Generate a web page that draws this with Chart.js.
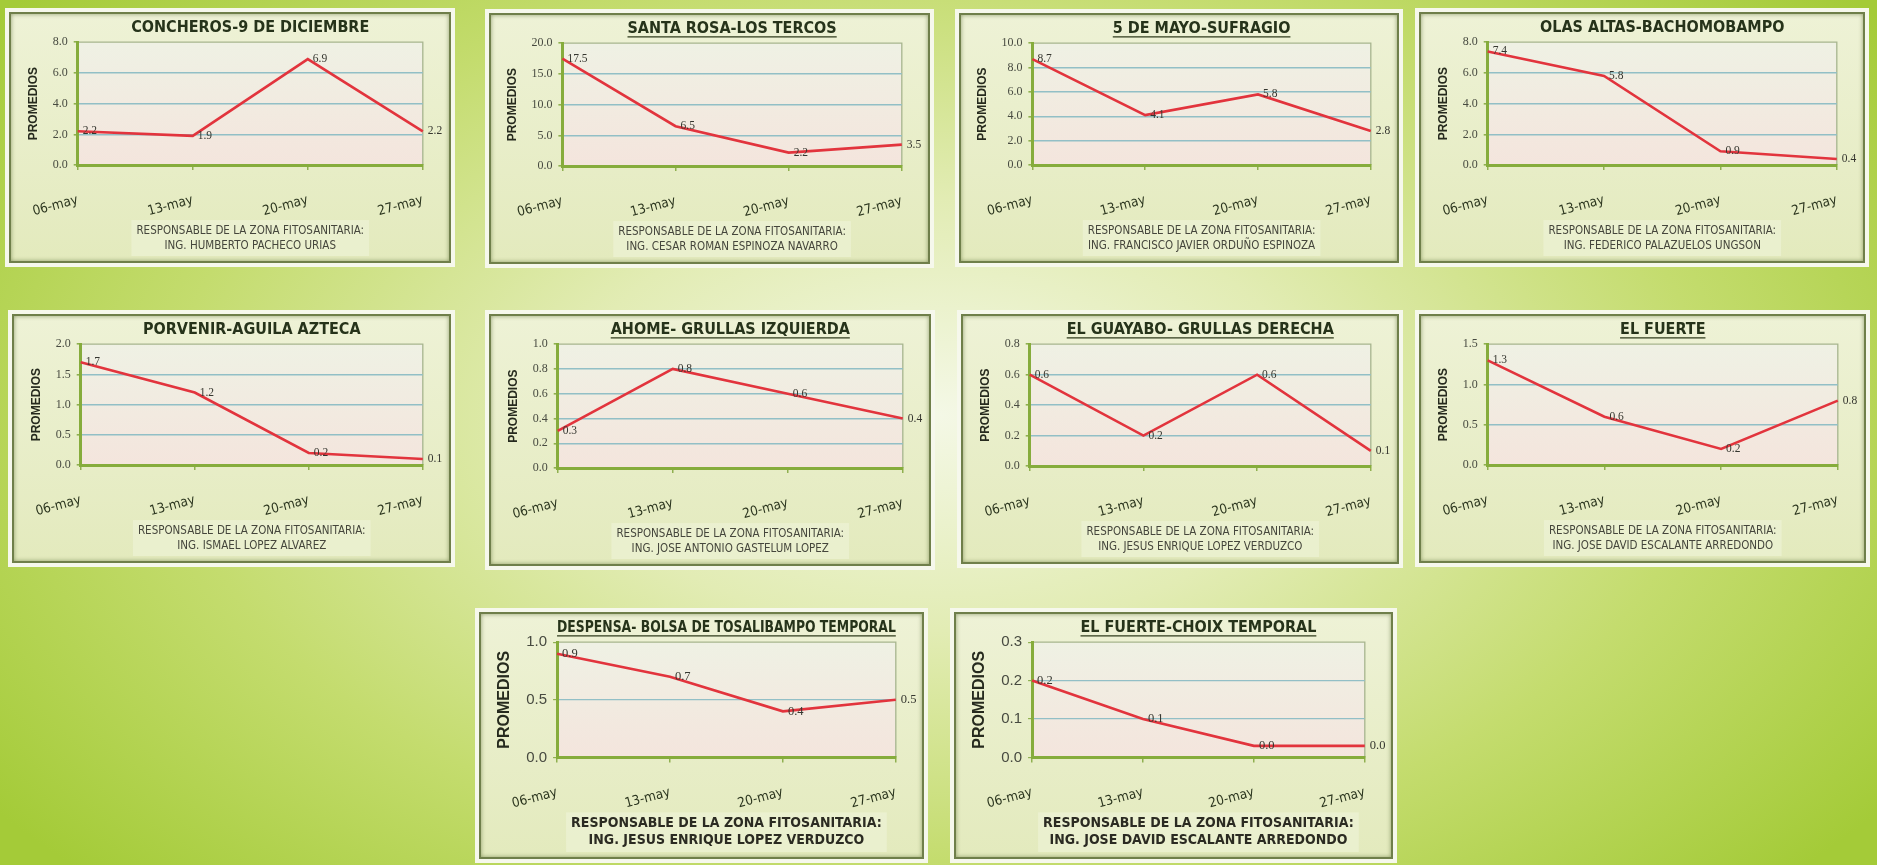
<!DOCTYPE html>
<html>
<head>
<meta charset="utf-8">
<script src="https://cdn.jsdelivr.net/npm/chart.js@4.4.1/dist/chart.umd.min.js"></script>
<style>
  html, body { margin: 0; padding: 0; width: 1877px; height: 865px; overflow: hidden; }
  body {
    position: relative;
    background: radial-gradient(ellipse 62% 78% at 50% 48%, #f4f8e6 0%, #e2ecb4 32%, #c4dc6e 66%, #a4cb38 100%);
  }
  .panel { position: absolute; box-sizing: border-box; background: #f6f8ec; padding: 4px; }
  .inner {
    position: relative; width: 100%; height: 100%; box-sizing: border-box;
    border: 2px solid #6f7f4a;
    box-shadow: inset 0 0 4px rgba(70, 90, 30, 0.55);
    background: linear-gradient(#eef2d6, #e3eabd);
  }
  .inner canvas { position: absolute; left: 0; top: 0; }
</style>
</head>
<body>
<script>
// Fechas de muestreo (eje X)
const fechas = ['06-may', '13-may', '20-may', '27-may'];

// Zonas fitosanitarias
const zonas = [
  'CONCHEROS-9 DE DICIEMBRE',
  'SANTA ROSA-LOS TERCOS',
  '5 DE MAYO-SUFRAGIO',
  'OLAS ALTAS-BACHOMOBAMPO',
  'PORVENIR-AGUILA AZTECA',
  'AHOME- GRULLAS IZQUIERDA',
  'EL GUAYABO- GRULLAS DERECHA',
  'EL FUERTE',
  'DESPENSA- BOLSA DE TOSALIBAMPO TEMPORAL',
  'EL FUERTE-CHOIX TEMPORAL'
];

// Responsables de cada zona
const responsables = [
  'ING. HUMBERTO PACHECO URIAS',
  'ING. CESAR ROMAN ESPINOZA NAVARRO',
  'ING. FRANCISCO JAVIER ORDUÑO ESPINOZA',
  'ING. FEDERICO PALAZUELOS UNGSON',
  'ING. ISMAEL LOPEZ ALVAREZ',
  'ING. JOSE ANTONIO GASTELUM LOPEZ',
  'ING. JESUS ENRIQUE LOPEZ VERDUZCO',
  'ING. JOSE DAVID ESCALANTE ARREDONDO',
  'ING. JESUS ENRIQUE LOPEZ VERDUZCO',
  'ING. JOSE DAVID ESCALANTE ARREDONDO'
];

// Promedios semanales por zona
const concheros    = [2.2, 1.9, 6.9, 2.2];
const santaRosa    = [17.5, 6.5, 2.2, 3.5];
const cincoMayo    = [8.7, 4.1, 5.8, 2.8];
const olasAltas    = [7.4, 5.8, 0.9, 0.4];
const porvenir     = [1.7, 1.2, 0.2, 0.1];
const ahome        = [0.3, 0.8, 0.6, 0.4];
const guayabo      = [0.6, 0.2, 0.6, 0.1];
const elFuerte     = [1.3, 0.6, 0.2, 0.8];
const despensa     = [0.9, 0.7, 0.4, 0.5];
const fuerteChoix  = [0.2, 0.1, 0.03, 0.03];
const series = [concheros, santaRosa, cincoMayo, olasAltas, porvenir, ahome, guayabo, elFuerte, despensa, fuerteChoix];

// Escalas del eje Y (máximo y paso)
const maximos = [8, 20, 10, 8, 2, 1, 0.8, 1.5, 1, 0.3];
const pasos   = [2, 5, 2, 2, 0.5, 0.2, 0.2, 0.5, 0.5, 0.1];

// Ubicación de cada tarjeta en la página: [x, y, ancho, alto]
const cajas = [
  [5, 8, 450, 259], [485, 9, 449, 259], [955, 9, 448, 258], [1415, 8, 454, 259],
  [8, 310, 447, 257], [485, 310, 450, 260], [957, 310, 446, 258], [1415, 310, 455, 257],
  [475, 608, 453, 255], [950, 608, 447, 255]
];
const subrayado = [false, true, true, false, false, true, true, true, true, true];

const NARROW = '"Liberation Sans Narrow", "DejaVu Sans Condensed", "Arial Narrow", sans-serif';
const SERIF = '"Liberation Serif", "DejaVu Serif", serif';
const SANS = '"Liberation Sans", "DejaVu Sans", sans-serif';

// Fondo del área de trazado con borde superior y derecho
const fondoPlot = {
  id: 'fondoPlot',
  beforeDraw(chart) {
    const { ctx, chartArea: a } = chart;
    const g = ctx.createLinearGradient(0, a.top, 0, a.bottom);
    g.addColorStop(0, '#eff1e4');
    g.addColorStop(1, '#f4e5dd');
    ctx.save();
    ctx.fillStyle = g;
    ctx.fillRect(a.left, a.top, a.width, a.height);
    ctx.strokeStyle = '#a7b58f';
    ctx.lineWidth = 1.3;
    ctx.beginPath();
    ctx.moveTo(a.left, a.top);
    ctx.lineTo(a.right, a.top);
    ctx.lineTo(a.right, a.bottom);
    ctx.stroke();

    // recuadro claro detrás del pie con el responsable
    const pie = chart.boxes.find(b => b.options && b.options.position === 'bottom' && Array.isArray(b.options.text));
    if (pie) {
      const f = pie.options.font;
      ctx.font = `${f.weight || 'normal'} ${f.size}px ${f.family}`;
      const w = Math.max(...pie.options.text.map(t => ctx.measureText(t).width)) + 10;
      const cx = pie.left + pie.width / 2;
      ctx.fillStyle = 'rgba(250, 251, 238, 0.32)';
      ctx.fillRect(cx - w / 2, pie.top - 3, w, pie.height - pie.options.padding.bottom + 6);
    }
    ctx.restore();
  }
};

// Valor de cada punto junto a la línea
const etiquetas = {
  id: 'etiquetas',
  afterDatasetsDraw(chart, args, opts) {
    const ctx = chart.ctx;
    const meta = chart.getDatasetMeta(0);
    const valores = chart.data.datasets[0].data;
    ctx.save();
    ctx.font = opts.font;
    ctx.fillStyle = opts.color;
    ctx.textAlign = 'left';
    ctx.textBaseline = 'middle';
    meta.data.forEach((pt, i) => {
      ctx.fillText(valores[i].toFixed(1), pt.x + opts.dx, pt.y + opts.dy);
    });
    ctx.restore();
  }
};

// Subrayado del título
const subrayaTitulo = {
  id: 'subrayaTitulo',
  afterDraw(chart, args, opts) {
    if (!opts.activo) return;
    const tb = chart.titleBlock;
    const t = chart.options.plugins.title;
    const ctx = chart.ctx;
    ctx.save();
    ctx.font = `bold ${t.font.size}px ${t.font.family}`;
    const w = Math.min(ctx.measureText(t.text).width, tb.width);
    const cx = tb.left + tb.width / 2;
    const y = tb.top + t.padding.top + t.font.size * 1.2 / 2 + t.font.size * 0.52;
    ctx.strokeStyle = '#2f3b1c';
    ctx.lineWidth = 1.2;
    ctx.beginPath();
    ctx.moveTo(cx - w / 2, y);
    ctx.lineTo(cx + w / 2, y);
    ctx.stroke();
    ctx.restore();
  }
};

zonas.forEach((zona, k) => {
  const [x, y, w, h] = cajas[k];
  const grande = k >= 8;
  const panel = document.createElement('div');
  panel.className = 'panel';
  Object.assign(panel.style, { left: x + 'px', top: y + 'px', width: w + 'px', height: h + 'px' });
  const inner = document.createElement('div');
  inner.className = 'inner';
  const canvas = document.createElement('canvas');
  const cw = w - 12, ch = h - 12;
  canvas.width = cw; canvas.height = ch;
  canvas.style.width = cw + 'px'; canvas.style.height = ch + 'px';
  inner.appendChild(canvas);
  panel.appendChild(inner);
  document.body.appendChild(panel);

  const maximo = maximos[k];

  new Chart(canvas, {
    type: 'line',
    data: {
      labels: fechas,
      datasets: [{
        data: series[k],
        borderColor: '#e2343d',
        borderWidth: 2.6,
        pointRadius: 0,
        tension: 0,
        fill: false
      }]
    },
    options: {
      responsive: false,
      animation: false,
      devicePixelRatio: 1,
      layout: { padding: { top: 0, right: 16, bottom: 0, left: 14 } },
      plugins: {
        legend: { display: false },
        tooltip: { enabled: false },
        title: {
          display: true,
          text: zona,
          fullSize: false,
          color: '#26331a',
          font: { family: NARROW, size: 16, weight: 'bold' },
          padding: { top: 4, bottom: 5 }
        },
        subtitle: {
          display: true,
          position: 'bottom',
          fullSize: false,
          text: ['RESPONSABLE DE LA ZONA FITOSANITARIA:', responsables[k]],
          color: grande ? '#2b2b22' : '#45463c',
          font: { family: NARROW, size: grande ? 14 : 11.5, weight: grande ? 'bold' : 'normal', lineHeight: grande ? 1.2 : 1.3 },
          padding: { top: 0, bottom: 8 }
        },
        etiquetas: { font: `${grande ? 12.5 : 11.5}px ${SERIF}`, color: '#35362f', dx: 5, dy: 0 },
        subrayaTitulo: { activo: subrayado[k] }
      },
      scales: {
        x: {
          offset: false,
          afterFit(scale) { scale.height = 58; },
          grid: { display: true, drawOnChartArea: false, tickLength: 5, color: '#8fb050', lineWidth: 1.5 },
          border: { color: '#86ac3c', width: 3 },
          ticks: {
            minRotation: 15, maxRotation: 15, padding: 22,
            color: '#2c361f',
            font: { family: NARROW, size: 13.5 }
          }
        },
        y: {
          min: 0,
          max: maximo,
          border: { color: '#86ac3c', width: 3 },
          grid: {
            color: c => (c.tick && c.tick.value >= maximo - 1e-9) ? 'rgba(0,0,0,0)' : '#92bfc6',
            lineWidth: grande ? 1.2 : 1.6,
            tickLength: 4,
            tickColor: '#8fb050'
          },
          ticks: {
            stepSize: pasos[k],
            padding: 6,
            color: '#474a40',
            font: grande ? { family: SANS, size: 15 } : { family: SERIF, size: 12 },
            callback: v => Number(v).toFixed(1)
          },
          title: {
            display: true,
            text: 'PROMEDIOS',
            color: '#262a1e',
            font: { family: SANS, size: grande ? 16 : 12, weight: 'bold' },
            padding: { top: 0, bottom: 6 }
          }
        }
      }
    },
    plugins: [fondoPlot, etiquetas, subrayaTitulo]
  });
});
</script>
</body>
</html>
